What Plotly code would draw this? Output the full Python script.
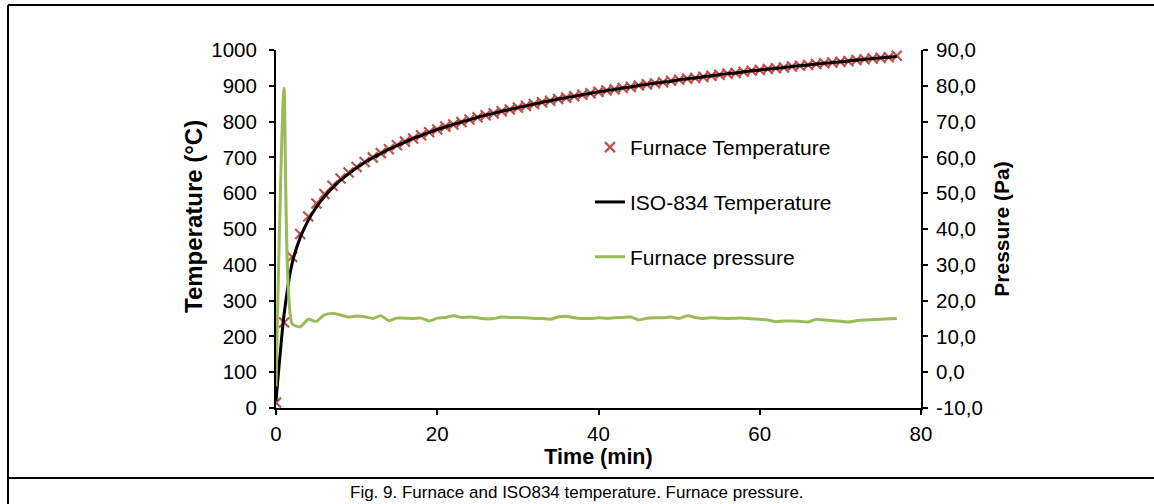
import plotly.graph_objects as go

# Time axis (min)
time_min = [0, 1, 2, 3, 4, 5, 6, 7, 8, 9, 10, 11, 12, 13, 14, 15, 16, 17, 18, 19,
            20, 21, 22, 23, 24, 25, 26, 27, 28, 29, 30, 31, 32, 33, 34, 35, 36, 37, 38, 39,
            40, 41, 42, 43, 44, 45, 46, 47, 48, 49, 50, 51, 52, 53, 54, 55, 56, 57, 58, 59,
            60, 61, 62, 63, 64, 65, 66, 67, 68, 69, 70, 71, 72, 73, 74, 75, 76, 77]

# Measured furnace temperature (°C)
furnace_temp = [15, 239, 422, 486, 535, 571, 598, 621, 641, 658, 673, 687, 700, 712, 723, 734,
                744, 753, 762, 770, 778, 786, 792, 799, 806, 812, 818, 823, 829, 834, 839, 844,
                849, 854, 858, 863, 867, 871, 875, 879, 883, 887, 890, 894, 897, 901, 904, 907,
                910, 914, 917, 920, 922, 925, 928, 931, 934, 936, 939, 942, 944, 947, 949, 951,
                954, 956, 958, 961, 963, 965, 967, 969, 972, 974, 976, 978, 980, 984]

# ISO-834 standard temperature curve (°C)
iso_temp = [20, 261, 404, 476, 524, 561, 590, 615, 636, 654, 671, 686, 699, 711, 723, 733,
            743, 753, 761, 770, 778, 785, 792, 799, 805, 812, 818, 823, 829, 834, 839, 844,
            849, 854, 858, 863, 867, 871, 875, 879, 883, 887, 890, 894, 897, 901, 904, 907,
            910, 913, 917, 920, 922, 925, 928, 931, 934, 936, 939, 942, 944, 947, 949, 951,
            954, 956, 958, 961, 963, 965, 967, 969, 972, 974, 976, 978, 980, 982]

# Furnace pressure (Pa)
furnace_pressure = [-4.0, 79.3, 13.5, 12.7, 14.8, 14.2, 16.0, 16.4, 16.0, 15.4, 15.7, 15.5, 15.0,
                    15.8, 14.4, 15.1, 15.1, 15.0, 15.1, 14.3, 15.1, 15.3, 15.8, 15.3, 15.4, 15.2,
                    14.9, 15.0, 15.4, 15.3, 15.3, 15.2, 15.0, 15.0, 14.8, 15.4, 15.6, 15.2, 15.0,
                    15.0, 15.2, 15.1, 15.2, 15.3, 15.4, 14.6, 15.1, 15.2, 15.2, 15.4, 15.0, 15.8,
                    15.3, 15.0, 15.2, 15.1, 15.0, 15.1, 15.1, 14.9, 14.8, 14.6, 14.1, 14.3, 14.3,
                    14.2, 14.0, 14.8, 14.6, 14.4, 14.2, 14.0, 14.4, 14.6, 14.7, 14.8, 14.9, 15.0]

pressure_ticks = [-10, 0, 10, 20, 30, 40, 50, 60, 70, 80, 90]
pressure_labels = ["-10,0", "0,0", "10,0", "20,0", "30,0", "40,0", "50,0",
                   "60,0", "70,0", "80,0", "90,0"]

FONT = "Arial, Liberation Sans, sans-serif"
W, H = 1154, 504
ML, MR, MT, MB = 276, 233, 50, 96
PW, PH = W - ML - MR, H - MT - MB


def px(x):
    return (x - ML) / PW


def py(y):
    return (H - MB - y) / PH


fig = go.Figure()

fig.add_trace(go.Scatter(
    x=time_min, y=furnace_temp, name="Furnace Temperature", mode="markers",
    marker=dict(symbol="x-thin", size=10, color="#C0504D",
                line=dict(width=2.2, color="#C0504D")),
    legendgroup="a",
))
fig.add_trace(go.Scatter(
    x=time_min, y=iso_temp, name="ISO-834 Temperature", mode="lines",
    line=dict(color="black", width=3, shape="spline", smoothing=0.6),
    legendgroup="b",
))
fig.add_trace(go.Scatter(
    x=time_min, y=furnace_pressure, name="Furnace pressure", mode="lines",
    line=dict(color="#9BBB59", width=3, shape="spline", smoothing=0.6),
    yaxis="y2", legendgroup="c",
))

axis_common = dict(
    showgrid=False, zeroline=False, showline=True, linecolor="black", linewidth=2,
    ticks="outside", ticklen=5, tickwidth=2, tickcolor="black",
    tickfont=dict(family=FONT, size=20.5, color="black"),
)

fig.update_layout(
    width=W, height=H,
    margin=dict(l=ML, r=MR, t=MT, b=MB),
    paper_bgcolor="white", plot_bgcolor="white",
    font=dict(family=FONT, size=20, color="black"),
    xaxis=dict(range=[0, 80], tickvals=[0, 20, 40, 60, 80], ticklabelstandoff=1,
               title=dict(text="<b>Time (min)</b>", standoff=0,
                          font=dict(family=FONT, size=21.5)),
               **axis_common),
    yaxis=dict(range=[0, 1000], tickvals=list(range(0, 1001, 100)), ticklabelstandoff=8,
               **axis_common),
    yaxis2=dict(range=[-10, 90], overlaying="y", side="right", ticklabelstandoff=4,
                tickvals=pressure_ticks, ticktext=pressure_labels,
                title=dict(text="<b>Pressure (Pa)</b>", standoff=12,
                           font=dict(family=FONT, size=21)),
                **axis_common),
    showlegend=True,
    legend=dict(x=px(590), y=py(127), xanchor="left", yanchor="top",
                traceorder="grouped", tracegroupgap=24.5,
                bgcolor="rgba(0,0,0,0)", font=dict(family=FONT, size=21)),
)

# Left axis title
fig.add_annotation(
    text="<b>Temperature (°C)</b>", textangle=-90,
    xref="paper", yref="paper", x=px(193), y=py(217), xanchor="center", yanchor="middle",
    showarrow=False, font=dict(family=FONT, size=24, color="black"),
)

# Figure frame and caption separator
frame = dict(type="line", xref="paper", yref="paper", line=dict(color="black", width=2))
fig.add_shape(x0=px(8), x1=px(1154), y0=py(5), y1=py(5), **frame)
fig.add_shape(x0=px(8), x1=px(8), y0=py(5), y1=py(504), **frame)
fig.add_shape(x0=px(8), x1=px(1154), y0=py(478), y1=py(478), **frame)

fig.add_annotation(
    text="Fig. 9. Furnace and ISO834 temperature. Furnace pressure.",
    xref="paper", yref="paper", x=px(577), y=py(492), xanchor="center", yanchor="middle",
    showarrow=False, font=dict(family=FONT, size=17, color="black"),
)

fig.write_html("out.html")
